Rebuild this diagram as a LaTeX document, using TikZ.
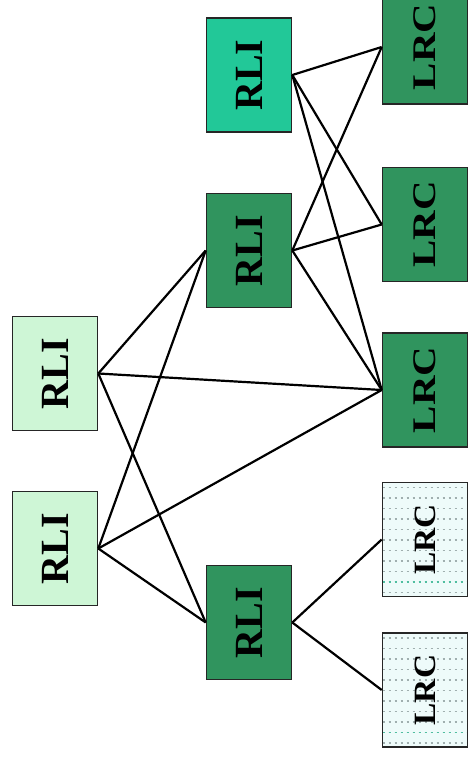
\documentclass[tikz,border=0pt]{standalone}
\usepackage{fontspec}
\setmainfont{Liberation Serif}
\usetikzlibrary{positioning,calc}

\definecolor{rlilight}{RGB}{206,246,214}
\definecolor{rliteal}{RGB}{34,200,152}
\definecolor{boxgreen}{RGB}{48,148,94}
\definecolor{dotfill}{RGB}{238,251,250}
\definecolor{dotgrey}{RGB}{160,175,175}
\definecolor{dotteal}{RGB}{80,190,160}

\begin{document}
\begin{tikzpicture}[x=1pt, y=-1pt,
  box/.style={draw=black!85, line width=1.6pt, minimum width=85pt,
    minimum height=114pt, inner sep=0pt, font=\bfseries},
  rli/.style={box, fill=boxgreen},
  lrc/.style={box, fill=boxgreen},
  lrcdot/.style={box, fill=dotfill, path picture={
      \foreach \k in {0,...,10}
        \draw[dotgrey, line width=1.1pt, dash pattern=on 2.5pt off 3.5pt]
          ([yshift=-5pt-\k*10.5pt]path picture bounding box.north west)
          -- ([yshift=-5pt-\k*10.5pt]path picture bounding box.north east);
      \draw[dotteal, line width=1.4pt, dash pattern=on 2.5pt off 3.5pt]
          ([yshift=-99.5pt]path picture bounding box.north west)
          -- ([yshift=-99.5pt]path picture bounding box.north east);}},
  link/.style={line width=2.2pt, black}]
\useasboundingbox (0,0) rectangle (468,760);

% left column
\node[rli, fill=rlilight] (L1) at (55,373.5) {\rotatebox{90}{\fontsize{40}{40}\selectfont RLI}};
\node[rli, fill=rlilight] (L2) at (55,548.5) {\rotatebox{90}{\fontsize{40}{40}\selectfont RLI}};

% middle column
\node[rli, fill=rliteal] (T) at (249,75) {\rotatebox{90}{\fontsize{40}{40}\selectfont RLI}};
\node[rli] (M) at (249,250.5) {\rotatebox{90}{\fontsize{40}{40}\selectfont RLI}};
\node[rli] (B) at (249,622.5) {\rotatebox{90}{\fontsize{40}{40}\selectfont RLI}};

% right column
\node[lrc] (R1) at (425,47) {\rotatebox{90}{\scalebox{1.24}[1]{\fontsize{33}{33}\selectfont LRC}}};
\node[lrc] (R2) at (425,224.5) {\rotatebox{90}{\scalebox{1.24}[1]{\fontsize{33}{33}\selectfont LRC}}};
\node[lrc] (R3) at (425,390) {\rotatebox{90}{\scalebox{1.24}[1]{\fontsize{33}{33}\selectfont LRC}}};
\node[lrcdot] (R4) at (425,539.5) {\rotatebox{90}{\scalebox{1.08}[1]{\fontsize{31}{31}\selectfont LRC}}};
\node[lrcdot] (R5) at (425,690) {\rotatebox{90}{\scalebox{1.08}[1]{\fontsize{31}{31}\selectfont LRC}}};

% links
\foreach \a in {L1,L2}
  \foreach \b in {M,B,R3}
    \draw[link] (\a.east) -- (\b.west);
\foreach \a in {T,M}
  \foreach \b in {R1,R2,R3}
    \draw[link] (\a.east) -- (\b.west);
\draw[link] (B.east) -- (R4.west);
\draw[link] (B.east) -- (R5.west);
\end{tikzpicture}
\end{document}
